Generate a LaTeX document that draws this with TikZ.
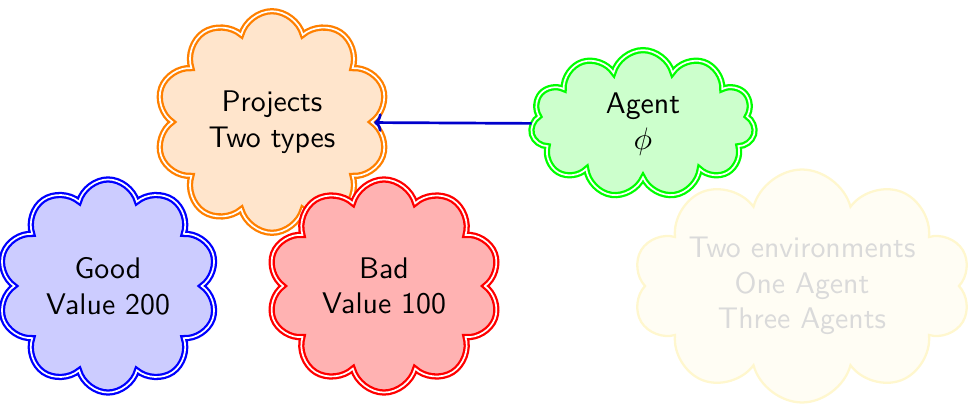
\documentclass[tikz,border=0pt]{standalone}
\usetikzlibrary{shapes.symbols,arrows.meta}
\definecolor{faintedge}{RGB}{255,247,206}
\definecolor{faintfill}{RGB}{255,253,244}
\definecolor{fainttext}{RGB}{218,218,218}
\begin{document}
\begin{tikzpicture}[x=0.352pt,y=-0.352pt,
  font=\sffamily\fontsize{10.5}{12.6}\selectfont,
  bubble/.style={cloud, cloud ignores aspect, thick, double, align=center, inner sep=0pt},
  faded/.style={cloud, cloud ignores aspect, thick, draw=faintedge, fill=faintfill, text=fainttext, align=center, inner sep=0pt},
  link/.style={-{To[length=2.6pt,width=6.5pt]}, line width=0.95pt, draw=blue!80!black}]
  \useasboundingbox (0,0) rectangle (968,406);
  \node[bubble, cloud puffs=10, draw=orange, fill=orange!20,
        minimum width=82pt, minimum height=78pt] (proj) at (272,122) {Projects\\Two types};
  \node[bubble, cloud puffs=11, draw=green, fill=green!20,
        minimum width=79pt, minimum height=52pt] (agent) at (643,124) {Agent\\$\phi$};
  \node[bubble, cloud puffs=10, draw=blue, fill=blue!20,
        minimum width=77.5pt, minimum height=75pt] (good) at (108,286) {Good\\Value 200};
  \node[bubble, cloud puffs=10, draw=red, fill=red!30,
        minimum width=82pt, minimum height=75pt] (bad) at (384,286) {Bad\\Value 100};
  \node[faded, cloud puffs=10,
        minimum width=115pt, minimum height=82pt] (env) at (802,286) {Two environments\\One Agent\\Three Agents};
  \draw[link] (agent) -- (proj);
\end{tikzpicture}
\end{document}
